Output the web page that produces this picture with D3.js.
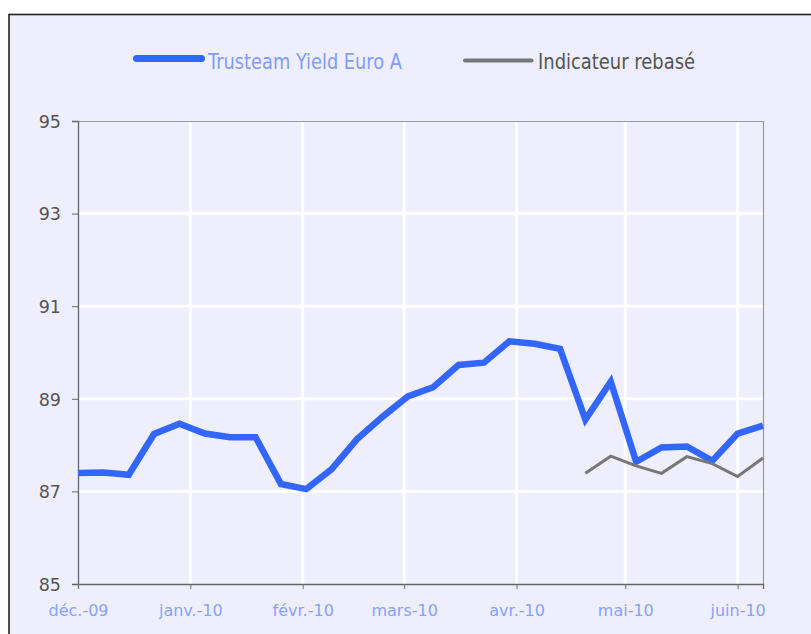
<!DOCTYPE html>
<html>
<head>
<meta charset="utf-8">
<script src="https://cdn.jsdelivr.net/npm/d3@7"></script>
<style>
  body { margin: 0; background: #fff; }
  svg { display: block; }
</style>
</head>
<body>
<svg width="811" height="634"></svg>
<script>
// weekly dates (one point per week)
var dates = ['2009-12-01', '2009-12-08', '2009-12-15', '2009-12-22', '2009-12-29',
  '2010-01-05', '2010-01-12', '2010-01-19', '2010-01-26',
  '2010-02-02', '2010-02-09', '2010-02-16', '2010-02-23',
  '2010-03-02', '2010-03-09', '2010-03-16', '2010-03-23', '2010-03-30',
  '2010-04-06', '2010-04-13', '2010-04-20', '2010-04-27',
  '2010-05-04', '2010-05-11', '2010-05-18', '2010-05-25',
  '2010-06-01', '2010-06-08'];

// Trusteam Yield Euro A
var fundValues = [87.40, 87.41, 87.36, 88.24, 88.46, 88.25, 88.17, 88.17, 87.16, 87.05,
  87.48, 88.13, 88.61, 89.05, 89.25, 89.73, 89.78, 90.24, 90.19, 90.08,
  88.55, 89.37, 87.64, 87.95, 87.97, 87.66, 88.25, 88.42];

// Indicateur rebasé (only starts in april)
var indexValues = [null, null, null, null, null, null, null, null, null, null,
  null, null, null, null, null, null, null, null, null, null,
  87.39, 87.76, 87.55, 87.39, 87.75, 87.60, 87.32, 87.72];

var seriesNames = ['Trusteam Yield Euro A', 'Indicateur rebasé'];
var monthTicks = ['2009-12-01', '2010-01-01', '2010-02-01', '2010-03-01', '2010-04-01', '2010-05-01', '2010-06-01'];
var monthLabels = ['déc.-09', 'janv.-10', 'févr.-10', 'mars-10', 'avr.-10', 'mai-10', 'juin-10'];
var yTicks = [85, 87, 89, 91, 93, 95];

var parse = d3.timeParse('%Y-%m-%d');
var svg = d3.select('svg');

//outer frame
svg.append('rect')
  .attr('x', 9).attr('y', 14.5)
  .attr('width', 900).attr('height', 700)
  .attr('fill', '#eeeefc')
  .attr('stroke', '#222')
  .attr('stroke-width', 1.6);

var plot = { left: 78, right: 763, top: 121, bottom: 584 };

var x = d3.scaleTime()
  .domain([parse(dates[0]), parse(dates[dates.length - 1])])
  .range([plot.left, plot.right]);
var y = d3.scaleLinear().domain([85, 95]).range([plot.bottom, plot.top]);

//white grid
svg.append('g').selectAll('line.h')
  .data(yTicks.slice(1, -1))
  .enter().append('line')
  .attr('x1', plot.left).attr('x2', plot.right)
  .attr('y1', function (d) { return y(d); })
  .attr('y2', function (d) { return y(d); })
  .attr('stroke', '#fff').attr('stroke-width', 3);

svg.append('g').selectAll('line.v')
  .data(monthTicks.slice(1))
  .enter().append('line')
  .attr('x1', function (d) { return x(parse(d)); })
  .attr('x2', function (d) { return x(parse(d)); })
  .attr('y1', plot.top).attr('y2', plot.bottom)
  .attr('stroke', '#fff').attr('stroke-width', 3);

//plot border top + right
svg.append('path')
  .attr('d', 'M' + plot.left + ',' + (plot.top + 0.5) + 'H' + (plot.right + 0.5) + 'V' + plot.bottom)
  .attr('fill', 'none').attr('stroke', '#9a9a9a').attr('stroke-width', 1.2);

//y axis
var yAxis = svg.append('g')
  .attr('transform', 'translate(' + plot.left + ',0)')
  .call(d3.axisLeft(y).tickValues(yTicks).tickSize(6).tickPadding(11).tickFormat(d3.format('d')));
yAxis.select('.domain').attr('stroke', '#666').attr('stroke-width', 1.3);
yAxis.selectAll('.tick line').attr('stroke', '#666');
yAxis.selectAll('text')
  .attr('fill', '#555')
  .attr('font-family', 'DejaVu Sans, sans-serif')
  .attr('font-size', 17.5)
  .attr('dy', '0.36em');

//x axis
var xAxis = svg.append('g')
  .attr('transform', 'translate(0,' + plot.bottom + ')')
  .call(d3.axisBottom(x)
    .tickValues(monthTicks.map(parse))
    .tickSize(5)
    .tickFormat(function (d, i) { return monthLabels[i]; }));
xAxis.select('.domain').attr('stroke', '#666').attr('stroke-width', 1.3);
xAxis.selectAll('.tick line').attr('stroke', '#777');
xAxis.selectAll('text')
  .attr('fill', '#88a2ff')
  .attr('font-family', 'DejaVu Sans, sans-serif')
  .attr('font-size', 16)
  .attr('y', 32).attr('dy', 0);

//lines
var line = d3.line()
  .defined(function (d) { return d.v != null; })
  .x(function (d) { return x(d.date); })
  .y(function (d) { return y(d.v); });

var fundData = dates.map(function (d, i) { return { date: parse(d), v: fundValues[i] }; });
var indexData = dates.map(function (d, i) { return { date: parse(d), v: indexValues[i] }; });

svg.append('path').datum(fundData)
  .attr('d', line)
  .attr('fill', 'none').attr('stroke', '#3366ff').attr('stroke-width', 6.5)
  .attr('stroke-linejoin', 'miter');

svg.append('path').datum(indexData)
  .attr('d', line)
  .attr('fill', 'none').attr('stroke', '#777').attr('stroke-width', 3);

//legend
var legend = svg.append('g').attr('font-family', 'DejaVu Sans, sans-serif');
legend.append('line')
  .attr('x1', 136.5).attr('x2', 201.5).attr('y1', 58.5).attr('y2', 58.5)
  .attr('stroke', '#3366ff').attr('stroke-width', 7).attr('stroke-linecap', 'round');
legend.append('text')
  .attr('x', 208).attr('y', 69)
  .attr('font-size', 21.5)
  .attr('fill', '#7f9cff')
  .attr('textLength', 194).attr('lengthAdjust', 'spacingAndGlyphs')
  .text(seriesNames[0]);
legend.append('line')
  .attr('x1', 465).attr('x2', 531.5).attr('y1', 60.5).attr('y2', 60.5)
  .attr('stroke', '#777').attr('stroke-width', 4).attr('stroke-linecap', 'round');
legend.append('text')
  .attr('x', 538).attr('y', 68.5)
  .attr('font-size', 21)
  .attr('fill', '#555')
  .attr('textLength', 157).attr('lengthAdjust', 'spacingAndGlyphs')
  .text(seriesNames[1]);
</script>
</body>
</html>
